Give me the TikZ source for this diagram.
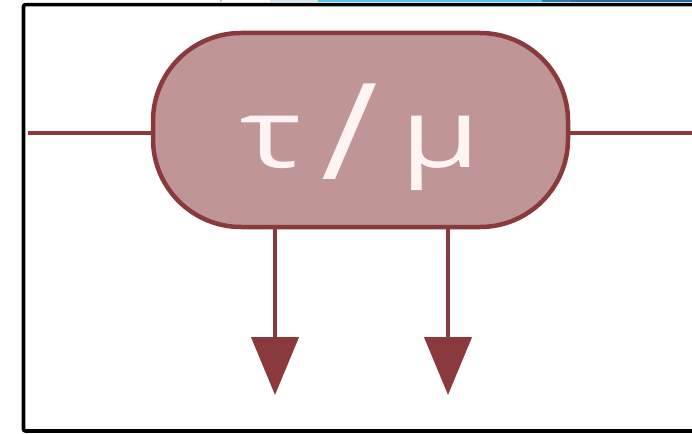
\documentclass[tikz,border=0pt]{standalone}
\usepackage{fontspec}
\newfontfamily\glyphfont{Open Sans}
\usetikzlibrary{arrows.meta}
\definecolor{pillrose}{HTML}{BF9595}
\definecolor{pillred}{HTML}{8A3A3C}
\definecolor{pilltext}{HTML}{FFF3F3}
\definecolor{stripA}{HTML}{D2E9F3}
\definecolor{stripB}{HTML}{5BC0E6}
\definecolor{stripC}{HTML}{2B77AF}
\definecolor{stripD}{HTML}{27669A}
\newcommand{\wideglyph}[2]{\scalebox{#1}[1]{#2}}
\tikzset{
  pill/.style={draw=pillred, fill=pillrose, line width=4.5pt, rounded corners=88pt,
    minimum width=415pt, minimum height=194pt, inner sep=0pt, text=pilltext,
    font=\glyphfont\fontsize{96}{96}\selectfont},
  wire/.style={draw=pillred, line width=4.5pt},
  arr/.style={wire, -{Triangle[length=58pt, width=47pt]}},
  frm/.style={draw=black, line width=3.6pt, rounded corners=2pt},
}
\begin{document}
\begin{tikzpicture}[x=1pt, y=-1pt]
  \useasboundingbox (0,0) rectangle (692,433);
  \clip (0,0) rectangle (692,433);
  % strip at the top edge
  \fill[stripA] (270,0) rectangle (318,2.4);
  \fill[stripB] (318,0) rectangle (542,2.4);
  \fill[stripC] (542,0) rectangle (571,2.4);
  \fill[stripD] (571,0) rectangle (692,2.4);
  \fill[stripB!60] (220,0) rectangle (222,2.4);
  \draw[frm] (23.5,4.6) rectangle (720,431);
  \node[pill] (mu) at (360.5,130) {\raisebox{-37pt}[0pt][0pt]{\wideglyph{1.35}{τ}\hspace{20pt}\raisebox{-12pt}{\wideglyph{1.15}{\fontsize{134}{134}\selectfont /}}\hspace{22pt}\wideglyph{1.35}{μ}}};
  \coordinate (lin) at (28,133);
  \coordinate (lout) at (700,133);
  \coordinate (o1) at (275,395);
  \coordinate (o2) at (448,395);
  \draw[wire] (lin) -- (lin -| mu.west);
  \draw[wire] (mu.east |- lout) -- (lout);
  \draw[arr] (o1 |- mu.south) -- (o1);
  \draw[arr] (o2 |- mu.south) -- (o2);
\end{tikzpicture}
\end{document}
